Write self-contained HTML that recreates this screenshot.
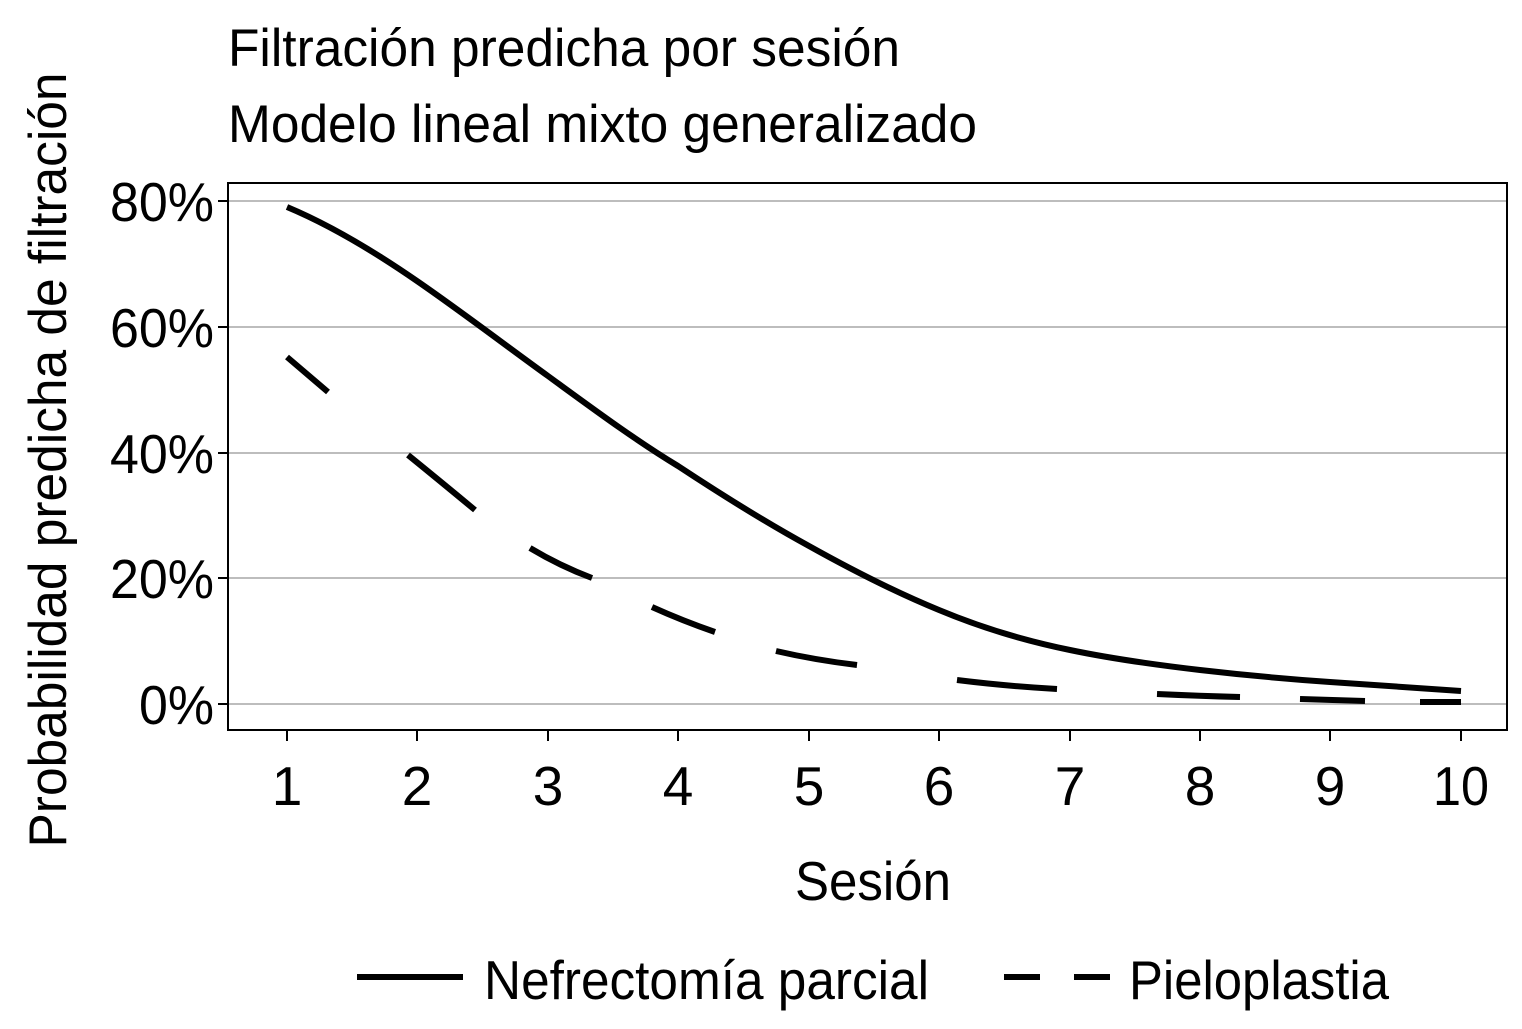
<!DOCTYPE html>
<html><head><meta charset="utf-8"><style>
html,body{margin:0;padding:0;background:#fff;}
svg text{font-family:"Liberation Sans Narrow","Liberation Sans",sans-serif;fill:#000;}
</style></head><body>
<svg width="1522" height="1024" viewBox="0 0 1522 1024" xmlns="http://www.w3.org/2000/svg">
<rect width="1522" height="1024" fill="#fff"/>
<text x="228" y="66" font-size="53" textLength="672" lengthAdjust="spacingAndGlyphs">Filtración predicha por sesión</text>
<text x="228" y="142" font-size="53" textLength="749" lengthAdjust="spacingAndGlyphs">Modelo lineal mixto generalizado</text>
<g stroke="#bdbdbd" stroke-width="2">
<line x1="229" y1="201" x2="1506" y2="201"/>
<line x1="229" y1="327" x2="1506" y2="327"/>
<line x1="229" y1="453" x2="1506" y2="453"/>
<line x1="229" y1="578" x2="1506" y2="578"/>
<line x1="229" y1="704" x2="1506" y2="704"/>
</g>
<rect x="228" y="183" width="1279" height="547" fill="none" stroke="#000" stroke-width="2"/>
<g stroke="#000" stroke-width="2">
<line x1="218" y1="201" x2="228" y2="201"/><line x1="218" y1="327" x2="228" y2="327"/>
<line x1="218" y1="453" x2="228" y2="453"/><line x1="218" y1="578" x2="228" y2="578"/>
<line x1="218" y1="704" x2="228" y2="704"/>
<line x1="287" y1="730" x2="287" y2="741"/><line x1="417" y1="730" x2="417" y2="741"/>
<line x1="548" y1="730" x2="548" y2="741"/><line x1="678" y1="730" x2="678" y2="741"/>
<line x1="809" y1="730" x2="809" y2="741"/><line x1="939" y1="730" x2="939" y2="741"/>
<line x1="1070" y1="730" x2="1070" y2="741"/><line x1="1200" y1="730" x2="1200" y2="741"/>
<line x1="1330" y1="730" x2="1330" y2="741"/><line x1="1461" y1="730" x2="1461" y2="741"/>
</g>
<g font-size="55" text-anchor="end">
<text x="214" y="221" textLength="104" lengthAdjust="spacingAndGlyphs">80%</text>
<text x="214" y="347" textLength="104" lengthAdjust="spacingAndGlyphs">60%</text>
<text x="214" y="473" textLength="104" lengthAdjust="spacingAndGlyphs">40%</text>
<text x="214" y="598" textLength="104" lengthAdjust="spacingAndGlyphs">20%</text>
<text x="214" y="724" textLength="75" lengthAdjust="spacingAndGlyphs">0%</text>
</g>
<g font-size="55" text-anchor="middle">
<text x="287" y="805">1</text><text x="417" y="805">2</text><text x="548" y="805">3</text>
<text x="678" y="805">4</text><text x="809" y="805">5</text><text x="939" y="805">6</text>
<text x="1070" y="805">7</text><text x="1200" y="805">8</text><text x="1330" y="805">9</text>
<text x="1461" y="805" textLength="56" lengthAdjust="spacingAndGlyphs">10</text>
<text x="873" y="900" textLength="156" lengthAdjust="spacingAndGlyphs">Sesión</text>
</g>
<text transform="translate(66,460) rotate(-90)" font-size="53" text-anchor="middle" textLength="775" lengthAdjust="spacingAndGlyphs">Probabilidad predicha de filtración</text>
<path d="M287,207 C330,225 375,252 417,281 C462,312 505,345 548,376 C592,408 635,440 678,466 C722,495 765,522 809,546 C852,570 895,592 939,610 C982,628 1026,641 1070,650 C1113,659 1157,665 1200,670 C1243,675 1287,679 1330,682 C1374,685 1418,688 1461,691" fill="none" stroke="#000" stroke-width="6"/>
<path d="M287,357 Q308,375 328,392 M408,455 Q440,481 475,510 M530,548 Q560,566 592,578 M652,607 Q683,621 715,632 M776,651 Q815,660 857,665 M957,680 Q1005,686 1057,689 M1157,694 Q1200,696 1240,697 M1300,699 Q1332,700 1365,701 M1420,702 L1461,702" fill="none" stroke="#000" stroke-width="6"/>
<line x1="357" y1="977" x2="463" y2="977" stroke="#000" stroke-width="6"/>
<text x="484" y="999" font-size="55" textLength="445" lengthAdjust="spacingAndGlyphs">Nefrectomía parcial</text>
<line x1="1004" y1="977" x2="1040" y2="977" stroke="#000" stroke-width="6"/>
<line x1="1074" y1="977" x2="1110" y2="977" stroke="#000" stroke-width="6"/>
<text x="1129" y="999" font-size="55" textLength="260" lengthAdjust="spacingAndGlyphs">Pieloplastia</text>
</svg>
</body></html>
